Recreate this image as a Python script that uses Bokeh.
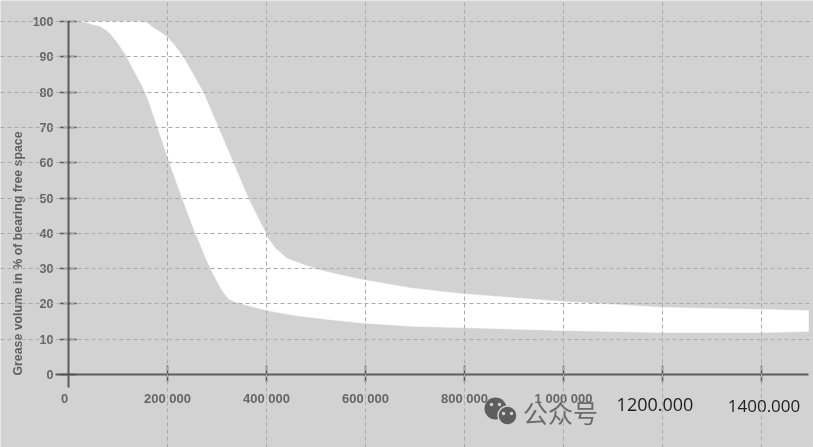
from bokeh.plotting import figure
from bokeh.models import Label, FixedTicker
from bokeh.embed import file_html
from bokeh.resources import INLINE

upper_x = [24000,130000,148000,155600,163000,171700,196000,212000,230000,246500,262600,272700,303000,333000,363600,398000,402000,418000,442400,472700,505000,545000,596000,691000,792000,893000,994000,1200000,1400000,1495000]
upper_y = [100,100,100,99.8,99.2,98.2,96,93.7,90.3,86.4,82.3,79.8,69.9,60,49.8,40.2,38.8,35.7,32.8,31.2,29.7,28.3,26.8,24.5,22.9,21.8,20.7,19,18.4,18.1]
lower_x = [24000,30000,64600,74700,84800,99000,115000,131000,149500,161600,180000,206000,230000,256600,260600,276800,291000,307000,313000,323000,331000,341000,371700,402000,458600,525000,594000,691000,792000,994000,1200000,1400000,1495000]
lower_y = [100,99.9,98.6,97.7,96.5,94,90.7,86.4,81.6,77.6,70,59.2,49.8,39.9,38.8,33.1,28.9,24.6,23.3,21.5,20.9,20.4,19.2,18.1,16.7,15.6,14.6,13.7,13.3,12.5,11.9,11.9,12.2]
x_ticks = [200000,400000,600000,800000,1000000,1200000,1400000]
x_labels = ["200 000","400 000","600 000","800 000","1 000 000","",""]
y_ticks = [0,10,20,30,40,50,60,70,80,90,100]

W, H = 813, 447
X0, XS = 68, 99/200000
Y0, YS = 374, 3.53
def dx(px): return (px-X0)/XS
def dy(py): return (Y0-py)/YS

BG = "#d2d2d2"
p = figure(width=W, height=H, output_backend="svg", toolbar_location=None,
           x_range=(dx(0), dx(W)), y_range=(dy(H), dy(0)),
           min_border=0, min_border_left=0, min_border_right=0, min_border_top=0, min_border_bottom=0,
           background_fill_color=BG, border_fill_color=BG, outline_line_color=None)
p.styles = {"position": "fixed", "left": "0", "top": "0"}

p.patch(upper_x + lower_x[::-1], upper_y + lower_y[::-1], fill_color="white", line_color="white", line_width=0.5)

xa, ya = p.xaxis[0], p.yaxis[0]
xa.fixed_location = 0
ya.fixed_location = 0
xa.bounds = (dx(55), dx(808))
ya.bounds = (dy(387), dy(21))
xa.ticker = FixedTicker(ticks=x_ticks)
ya.ticker = FixedTicker(ticks=y_ticks)
xa.major_label_overrides = {t: l for t, l in zip(x_ticks, x_labels)}
for a in (xa, ya):
    a.axis_line_color = "#5c5c5c"
    a.axis_line_width = 2
    a.major_tick_line_color = "#4f4f4f"
    a.major_tick_line_width = 1.5
    a.minor_tick_line_color = None
    a.major_label_text_color = "#666666"
    a.major_label_text_font = "Liberation Sans"
    a.major_label_text_font_style = "bold"
xa.major_label_text_font_size = "13px"
ya.major_label_text_font_size = "12.5px"
xa.major_tick_in, xa.major_tick_out = 9, 8
ya.major_tick_in, ya.major_tick_out = 8, 9
xa.major_label_standoff = 8
ya.major_label_standoff = 6

for g, b in ((p.xgrid[0], (0, 100)), (p.ygrid[0], (0, dx(808)))):
    g.grid_line_color = "#ababab"
    g.grid_line_dash = "4 3"
    g.grid_line_width = 1
    g.level = "overlay"
    g.bounds = b
p.xgrid[0].ticker = FixedTicker(ticks=x_ticks)
p.ygrid[0].ticker = FixedTicker(ticks=y_ticks[1:])

def label(px, py, text, **kw):
    p.add_layout(Label(x=dx(px), y=dy(py), text=text, **kw))

label(64, 398, "0", text_font="Liberation Sans", text_font_style="bold", text_font_size="13px",
      text_color="#666666", text_align="center", text_baseline="middle")
label(17, 253, "Grease volume in % of bearing free space", angle=90, angle_units="deg",
      text_font="Liberation Sans", text_font_style="bold", text_font_size="12.3px",
      text_color="#5f5f5f", text_align="center", text_baseline="middle")
label(654.5, 404, "1200.000", text_font="Open Sans", text_font_size="18px", text_color="#1e1e1e",
      text_align="center", text_baseline="middle")
label(763.5, 405, "1400.000", text_font="Open Sans", text_font_size="17px", text_color="#1e1e1e",
      text_align="center", text_baseline="middle")

# watermark
ic = "#5e5e5e"
p.scatter([dx(495)], [dy(408)], size=22, marker="circle", fill_color=ic, line_color=None)
p.scatter([dx(507)], [dy(415)], size=19, marker="circle", fill_color=ic, line_color=BG, line_width=1.5)
p.scatter([dx(491), dx(499), dx(503), dx(511)], [dy(404), dy(404), dy(413), dy(413)], size=3.5,
          marker="circle", fill_color=BG, line_color=None)
label(560, 411, "公众号", text_font="Noto Sans CJK SC", text_font_size="25px", text_color="#6a6a6a",
      text_align="center", text_baseline="middle")

open("out.html", "w").write(file_html(p, INLINE))
